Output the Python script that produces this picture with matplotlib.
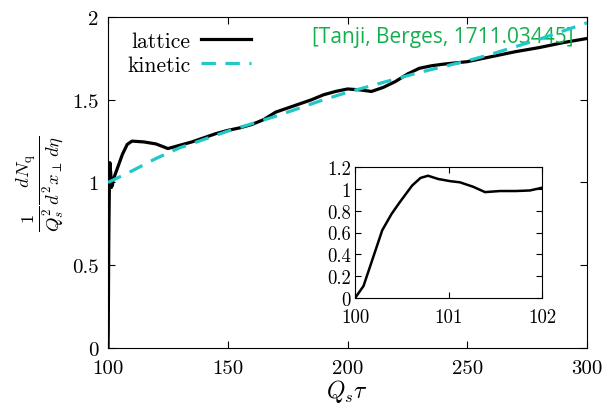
import matplotlib
matplotlib.use("Agg")
from matplotlib import pyplot

pyplot.rcParams["font.family"] = "serif"
pyplot.rcParams["font.serif"] = ["cmr10"]
pyplot.rcParams["mathtext.fontset"] = "cm"
pyplot.rcParams["axes.formatter.use_mathtext"] = True

# lattice curve (early part from the inset, then the long-time part)
lattice_tau = [100.0, 100.09, 100.2, 100.29, 100.39, 100.48, 100.61, 100.7, 100.78,
               100.89, 101.02, 101.12, 101.26, 101.39, 101.55, 101.72, 101.87, 102.0,
               103, 104, 106, 108, 110, 115, 120, 125, 130, 135, 140, 145, 150, 155,
               160, 165, 170, 175, 180, 185, 190, 195, 200, 205, 210, 215, 220, 225,
               230, 235, 240, 250, 260, 270, 280, 290, 300]
lattice_n = [0.0, 0.11, 0.39, 0.62, 0.77, 0.88, 1.03, 1.10, 1.12,
             1.09, 1.07, 1.06, 1.02, 0.97, 0.98, 0.98, 0.985, 1.01,
             1.05, 1.09, 1.17, 1.23, 1.25, 1.245, 1.233, 1.205, 1.225, 1.245, 1.27,
             1.295, 1.315, 1.33, 1.35, 1.38, 1.425, 1.45, 1.475, 1.50, 1.53, 1.55,
             1.565, 1.56, 1.55, 1.575, 1.61, 1.655, 1.69, 1.705, 1.715, 1.73, 1.76,
             1.79, 1.815, 1.845, 1.87]

kinetic_tau = [100, 110, 120, 130, 140, 150, 160, 170, 180, 190, 200, 210, 220,
               230, 240, 250, 260, 270, 280, 290, 300]
kinetic_n = [1.0, 1.07, 1.145, 1.21, 1.26, 1.31, 1.355, 1.40, 1.45, 1.50, 1.545,
             1.585, 1.625, 1.665, 1.70, 1.735, 1.775, 1.82, 1.865, 1.915, 1.965]

main_yticks = [0, 0.5, 1, 1.5, 2]
main_ylabels = ["0", "0.5", "1", "1.5", "2"]
inset_yticks = [0, 0.2, 0.4, 0.6, 0.8, 1.0, 1.2]
inset_ylabels = ["0", "0.2", "0.4", "0.6", "0.8", "1", "1.2"]

inset_end = 18

figure = pyplot.figure(figsize=(6.07, 4.06), dpi=100)
ax = figure.add_axes([0.178, 0.1404, 0.789, 0.8153])
ax.plot(lattice_tau, lattice_n, color="black", lw=2.3, label="lattice", zorder=3)
ax.plot(kinetic_tau, kinetic_n, color="#22c7c7", lw=2.3, ls=(0, (4.5, 3)),
        label="kinetic", zorder=4)
ax.set_xlim(100, 300)
ax.set_ylim(0, 2)
ax.set_xticks([100, 150, 200, 250, 300])
ax.set_xticklabels(["100", "150", "200", "250", "300"])
ax.set_yticks(main_yticks)
ax.set_yticklabels(main_ylabels)
ax.tick_params(direction="in", top=True, right=True, length=5, labelsize=15)
ax.tick_params(axis="x", pad=8)
ax.tick_params(axis="y", pad=7)
ax.set_xlabel(r"$Q_s\tau$", fontsize=17, labelpad=0)
ax.set_ylabel(r"$\frac{1}{Q_s^2}\frac{dN_\mathrm{q}}{d^2x_\perp\,d\eta}$", fontsize=19,
              labelpad=4)
ax.legend(loc="upper left", frameon=False, markerfirst=False, fontsize=15.5,
          handlelength=2.3, handletextpad=0.5, bbox_to_anchor=(0.0, 1.015),
          labelspacing=0.2)
ax.text(0.971, 0.94, "[Tanji, Berges, 1711.03445]", transform=ax.transAxes,
        ha="right", va="center", color="#12b04c", fontsize=15, family="Open Sans")

inset = figure.add_axes([0.585, 0.2635, 0.308, 0.3227])
inset.plot(lattice_tau[:inset_end], lattice_n[:inset_end], color="black", lw=1.8)
inset.set_xlim(100, 102)
inset.set_ylim(0, 1.2)
inset.set_xticks([100, 101, 102])
inset.set_xticklabels(["100", "101", "102"])
inset.set_yticks(inset_yticks)
inset.set_yticklabels(inset_ylabels)
inset.tick_params(direction="in", top=True, right=True, length=4, labelsize=13.5)
inset.tick_params(axis="x", pad=7)
inset.tick_params(axis="y", pad=3)

pyplot.savefig("out.png")
